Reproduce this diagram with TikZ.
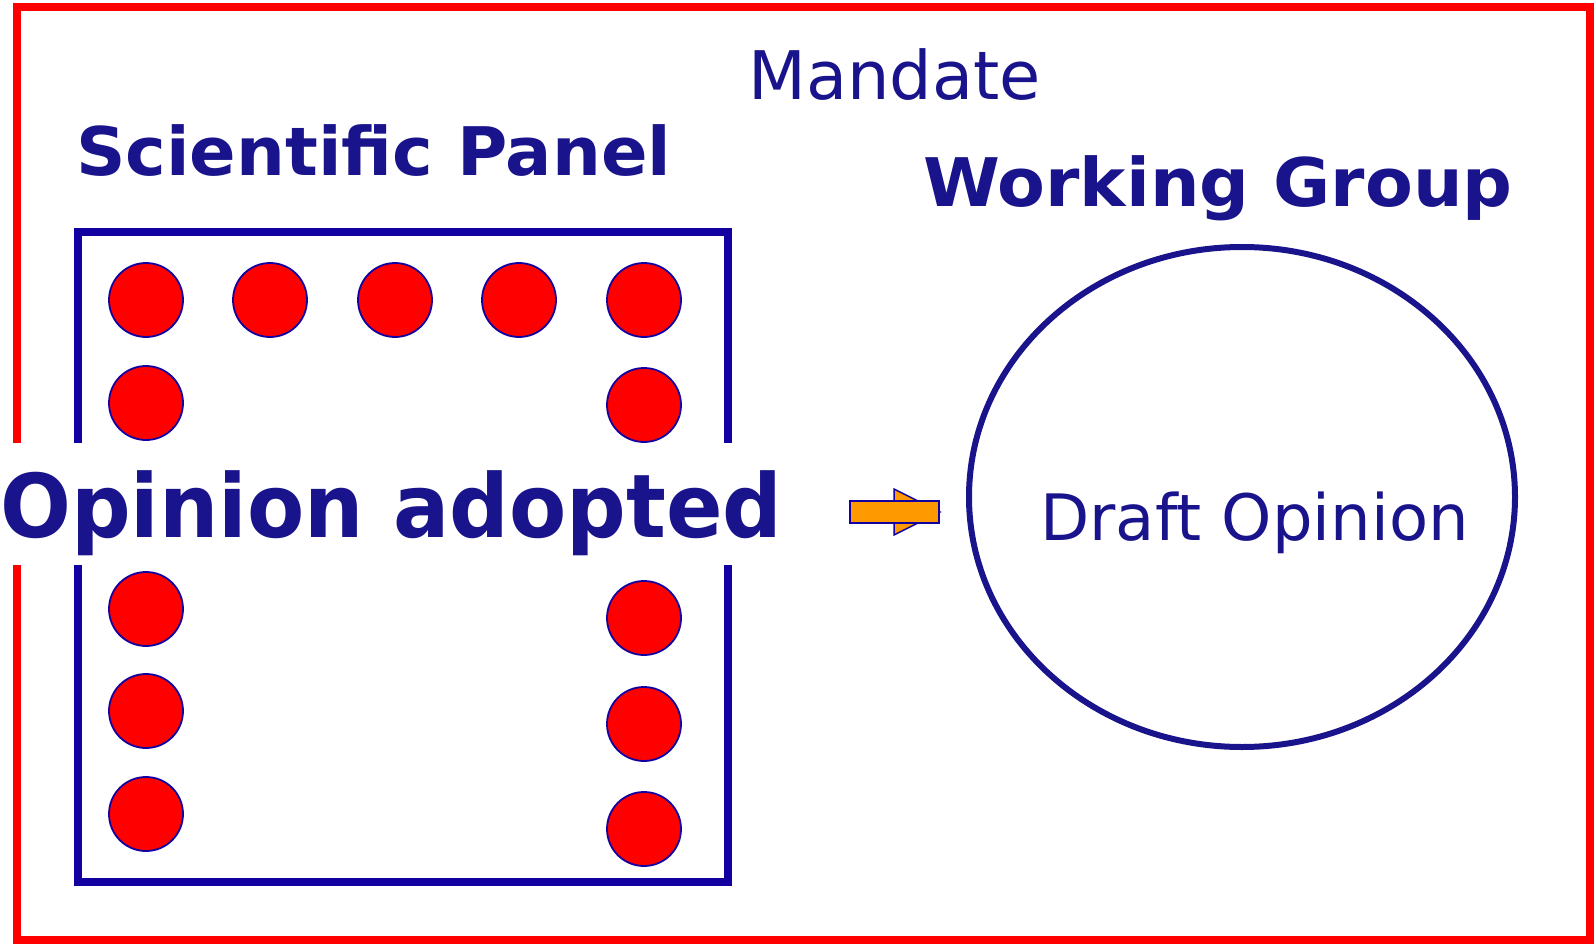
\documentclass[tikz,border=0pt]{standalone}
\usepackage{fontspec}
\setmainfont{DejaVu Sans}
\usepackage{tikz}
\usetikzlibrary{shapes,arrows,positioning,calc}
\definecolor{navytext}{RGB}{26,20,140}
\definecolor{navyline}{RGB}{18,0,160}
\definecolor{orangearrow}{RGB}{255,153,0}
\tikzset{
  member/.style={circle,draw=navyline,fill=red,line width=1.8pt,minimum size=74pt,inner sep=0pt},
  title/.style={text=navytext,font=\bfseries\fontsize{67}{67}\selectfont,inner sep=0pt,anchor=base west},
  plain/.style={text=navytext,font=\fontsize{67}{67}\selectfont,inner sep=0pt,anchor=base west}
}

\begin{document}
\begin{tikzpicture}[x=1pt,y=-1pt]
\useasboundingbox (0,0) rectangle (1596,944);
\draw[red,line width=7.5pt] (17,7) rectangle (1590,940);
\draw[navyline,line width=8.5pt] (78,232) rectangle (728,882);
% members of the panel
\node[member] (m1) at (146,300) {};
\node[member] (m2) at (270,300) {};
\node[member] (m3) at (395,300) {};
\node[member] (m4) at (519,300) {};
\node[member] (m5) at (644,300) {};
\node[member] (m6) at (146,403) {};
\node[member] (m7) at (644,405) {};
\node[member] (m8) at (146,609) {};
\node[member] (m9) at (644,618) {};
\node[member] (m10) at (146,711) {};
\node[member] (m11) at (644,724) {};
\node[member] (m12) at (146,814) {};
\node[member] (m13) at (644,829) {};
\node[title,fill=white,text height=94pt,text depth=28pt,xscale=0.948,font=\bfseries\fontsize{88}{88}\selectfont] (adopted) at (0,537) {Opinion adopted};
\node[plain] (mandate) at (748,100) {Mandate};
\node[title,xscale=1.025] (panel) at (76,176) {Scientific Panel};
\node[title,xscale=1.04] (group) at (923,207) {Working Group};
\node[ellipse,draw=navytext,line width=6pt,minimum width=546pt,minimum height=500pt] (wg) at (1242,497) {};
\node[plain,font=\fontsize{64}{64}\selectfont] (draft) at (1040,540) {Draft Opinion};
% arrow
\draw[navyline,fill=orangearrow,line width=1.5pt,line join=miter] (894,489) -- (940,512) -- (894,535) -- cycle;
\draw[navyline,fill=orangearrow,line width=1.5pt] (850,501) rectangle (939,523);
\end{tikzpicture}
\end{document}
